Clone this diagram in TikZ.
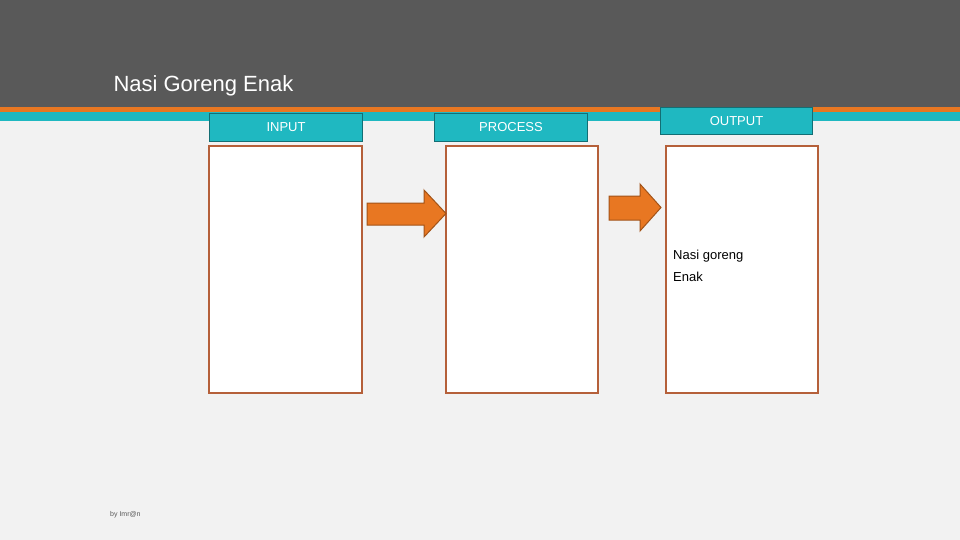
\documentclass[tikz,border=0pt]{standalone}
\usepackage{fontspec}
\setmainfont{Liberation Sans}
\usetikzlibrary{shapes.arrows}
\definecolor{dark}{HTML}{595959}
\definecolor{org}{HTML}{E87722}
\definecolor{teal}{HTML}{1FB8C1}
\definecolor{bg}{HTML}{F2F2F2}
\definecolor{brd}{HTML}{B5603A}
\tikzset{x=1pt,y=-1pt,
 hdr/.style={draw=teal!60!black,fill=teal,line width=1pt,text=white,font=\fontsize{13}{15}\selectfont},
 card/.style={draw=brd,fill=white,line width=1.2pt},
 arr/.style={draw=org!70!black,fill=org,line width=1pt}}
\begin{document}
\begin{tikzpicture}
\useasboundingbox (0,0) rectangle (960,540);
\fill[bg] (0,0) rectangle (960,540);
\fill[dark] (0,0) rectangle (960,107);
\fill[org] (0,107) rectangle (960,112);
\fill[teal] (0,112) rectangle (960,121);
\node[anchor=base west,text=white,font=\fontsize{22}{26}\selectfont] (title) at (110,92) {Nasi Goreng Enak};
\node[hdr,minimum width=153,minimum height=28,inner sep=0,anchor=north west] (h1) at (209,113) {INPUT};
\node[hdr,minimum width=153,minimum height=28,inner sep=0,anchor=north west] (h2) at (434,113) {PROCESS};
\node[hdr,minimum width=152,minimum height=27,inner sep=0,anchor=north west] (h3) at (660,107) {OUTPUT};
\draw[card] (209,146) rectangle (362,393);
\draw[card] (446,146) rectangle (598,393);
\draw[card] (666,146) rectangle (818,393);
\draw[arr] (367,203)--(424,203)--(424,190)--(446,213.5)--(424,237)--(424,225)--(367,225)--cycle;
\draw[arr] (609,196)--(640,196)--(640,184)--(661,207.5)--(640,231)--(640,220)--(609,220)--cycle;
\node[anchor=north west,align=left,inner sep=0,font=\fontsize{13}{22}\selectfont] (out) at (673,250) {Nasi goreng\\Enak};
\node[anchor=base west,inner sep=0,text=dark,font=\fontsize{7}{8}\selectfont] (by) at (110,516) {by Imr@n};
\end{tikzpicture}
\end{document}
